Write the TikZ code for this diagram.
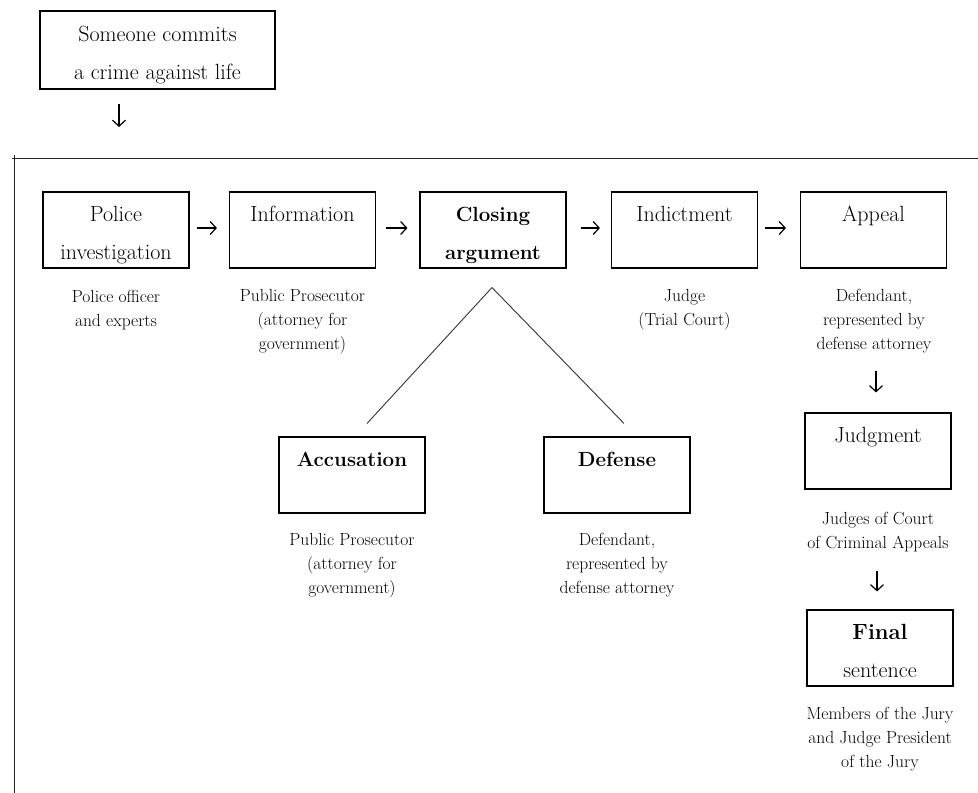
\documentclass[tikz,border=0pt]{standalone}
\usetikzlibrary{arrows.meta}
% two-line box text: first baseline 29pt below the top edge, 38pt line pitch
\newcommand{\stagebox}[2]{\parbox[c][76pt][t]{146pt}{\centering
  \rule{0pt}{29pt}#1\par\rule{0pt}{29pt}#2\par}}
\newcommand{\crimebox}[2]{\parbox[c][78pt][t]{235pt}{\centering
  \rule{0pt}{30pt}#1\par\rule{0pt}{30pt}#2\par}}
\begin{document}
\begin{tikzpicture}[x=1pt,y=1pt,
  stage/.style={draw, line width=1.1pt, inner sep=0pt,
    font=\fontsize{22}{38}\selectfont},
  boldstage/.style={stage, font=\fontsize{20.5}{38}\selectfont\bfseries},
  note/.style={align=center, inner sep=0pt, anchor=north,
    font=\fontsize{17.5}{24}\selectfont, execute at begin node=\strut},
  arr/.style={-{Straight Barb[length=6pt,width=13pt]}, line width=1.2pt},
  branch/.style={line width=0.9pt, draw=black!80},
  frame/.style={line width=1pt, draw=black!85}]
\useasboundingbox (0,0) rectangle (978,-793);

% starting event
\node[stage, font=\fontsize{22}{38.5}\selectfont] (crime) at (157.5,-50)
  {\crimebox{Someone commits}{a crime against life}};
\coordinate (crimeend) at (119,-127);
\draw[arr, shorten <=14pt] ([xshift=-38.5pt]crime.south) -- (crimeend);

% frame of the procedure
\draw[frame] (12,-158) -- (978,-158);
\draw[frame] (14,-155) -- (14,-793);

% main row of stages
\node[stage]     (police)  at (116,-230)   {\stagebox{Police}{investigation}};
\node[stage]     (info)    at (302.5,-230) {\stagebox{Information}{}};
\node[boldstage] (closing) at (493,-230)   {\stagebox{Closing}{argument}};
\node[stage]     (indict)  at (684.5,-230) {\stagebox{Indictment}{}};
\node[stage]     (appeal)  at (873.5,-230) {\stagebox{Appeal}{}};

\node[note] (policenote) at (116,-290)   {Police officer\\and experts};
\node[note] (infonote)   at (302.5,-289) {Public Prosecutor\\(attorney for\\government)};
\node[note] (indictnote) at (684.5,-289) {Judge\\(Trial Court)};
\node[note] (appealnote) at (874,-289)   {Defendant,\\represented by\\defense attorney};

\draw[arr, shorten <=7pt,  shorten >=12pt] ([yshift=2pt]police.east)  -- ([yshift=2pt]info.west);
\draw[arr, shorten <=10pt, shorten >=12pt] ([yshift=2pt]info.east)    -- ([yshift=2pt]closing.west);
\draw[arr, shorten <=14pt, shorten >=11pt] ([yshift=2pt]closing.east) -- ([yshift=2pt]indict.west);
\draw[arr, shorten <=7pt,  shorten >=14pt] ([yshift=2pt]indict.east)  -- ([yshift=2pt]appeal.west);

% the two sides of the closing argument
\node[boldstage] (accuse)  at (352,-475) {\stagebox{Accusation}{}};
\node[boldstage] (defense) at (617,-475) {\stagebox{Defense}{}};

\node[note] (accusenote)  at (352,-533) {Public Prosecutor\\(attorney for\\government)};
\node[note] (defensenote) at (617,-533) {Defendant,\\represented by\\defense attorney};

\draw[branch] ([xshift=-1pt,yshift=-19pt]closing.south) -- ([xshift=15pt,yshift=13pt]accuse.north);
\draw[branch] ([xshift=-1pt,yshift=-19pt]closing.south) -- ([xshift=7pt,yshift=13pt]defense.north);

% appeal chain
\node[stage] (judgment) at (878,-451) {\stagebox{Judgment}{}};
\node[note]  (judgmentnote) at (878,-512) {Judges of Court\\of Criminal Appeals};
\node[stage] (final) at (880,-648) {\stagebox{\textbf{Final}}{sentence}};
\node[note]  (finalnote) at (880,-707) {Members of the Jury\\and Judge President\\of the Jury};

\draw[arr, shorten <=102pt, shorten >=20pt] ([xshift=2.5pt]appeal.south) -- ([xshift=2.5pt]appeal.south |- judgment.north);
\draw[arr, shorten <=81pt, shorten >=18pt] ([xshift=-1pt]judgment.south) -- ([xshift=-1pt]judgment.south |- final.north);
\end{tikzpicture}
\end{document}
